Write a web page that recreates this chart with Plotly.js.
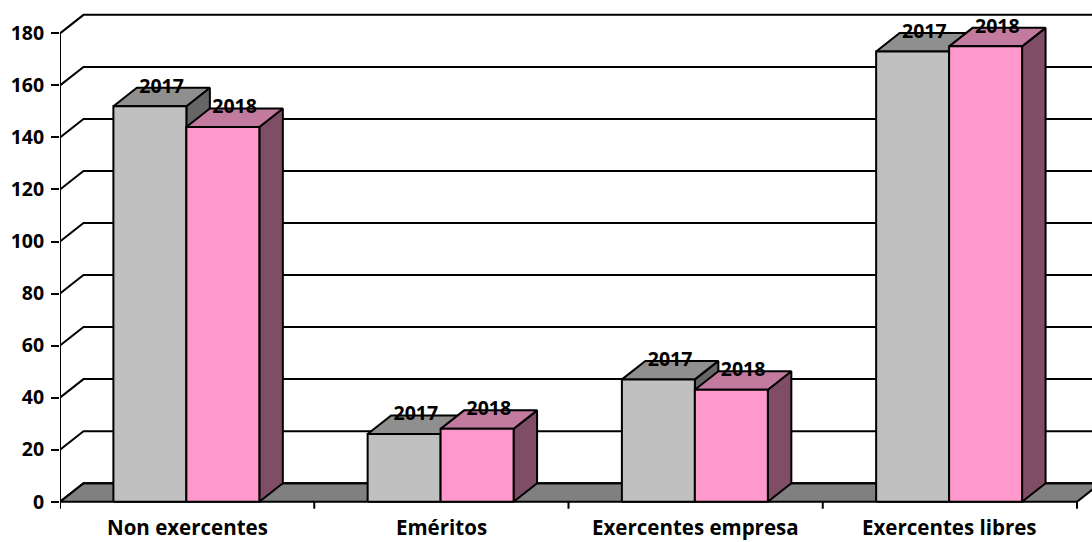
<!DOCTYPE html>
<html>
<head>
<meta charset="utf-8">
<script src="https://cdn.plot.ly/plotly-3.0.1.min.js"></script>
<style>html,body{margin:0;padding:0;background:#fff;}#chart{width:1092px;height:542px;}</style>
</head>
<body>
<div id="chart"></div>
<script>
// ---- data ----
const categories = ['Non exercentes', 'Eméritos', 'Exercentes empresa', 'Exercentes libres'];
const seriesNames = ['2017', '2018'];
const values2017 = [152, 26, 47, 173];
const values2018 = [144, 28, 43, 175];
const yTickVals = [0, 20, 40, 60, 80, 100, 120, 140, 160, 180];

// ---- styling / geometry ----
const FONT = '"Open Sans", Lato, Arial, sans-serif';
const FSIZE = 19.5;
const CAT_FSIZE = 20.5;
const pxPerX = 254.25, pxPerY = 2.602;
const DX = 23.5 / pxPerX, DY = 18.5 / pxPerY;       // 3D depth in data units
const barW = 0.287, groupLeft = 0.21;
const yMax = 180;
const nCat = categories.length;
const xEnd = nCat + DX + 0.5;
const colors = [
  {front: '#C0C0C0', top: '#8F8F8F', side: '#666666'},
  {front: '#FF99CC', top: '#C27A9E', side: '#804D66'}
];
const seriesValues = [values2017, values2018];

const traces = [];
const line = {color: '#000', width: 2};

// floor
traces.push({x: [0, nCat, nCat + DX, DX, 0], y: [0, 0, DY, DY, 0], mode: 'lines', fill: 'toself',
  fillcolor: '#808080', line: line, hoverinfo: 'skip', showlegend: false});

// wall gridlines (left side wall diagonal + back wall)
{
  const gx = [], gy = [];
  yTickVals.forEach(v => { gx.push(0, DX, xEnd, null); gy.push(v, v + DY, v + DY, null); });
  traces.push({x: gx, y: gy, mode: 'lines', line: line, hoverinfo: 'skip', showlegend: false});
}

// y axis line (front)
traces.push({x: [0, 0], y: [0, yMax], mode: 'lines', line: line, hoverinfo: 'skip', showlegend: false});

// x tick marks at category boundaries
{
  const tx = [], ty = [];
  for (let k = 0; k <= nCat; k++) { tx.push(k, k, null); ty.push(0, -2.7, null); }
  traces.push({x: tx, y: ty, mode: 'lines', line: line, hoverinfo: 'skip', showlegend: false});
}

// bars
seriesValues.forEach((vals, s) => {
  const side = {x: [], y: []}, top = {x: [], y: []}, front = {x: [], y: []};
  vals.forEach((v, i) => {
    const x0 = i + groupLeft + s * barW, x1 = x0 + barW;
    side.x.push(x1, x1 + DX, x1 + DX, x1, x1, null);
    side.y.push(0, DY, v + DY, v, 0, null);
    top.x.push(x0, x1, x1 + DX, x0 + DX, x0, null);
    top.y.push(v, v, v + DY, v + DY, v, null);
    front.x.push(x0, x1, x1, x0, x0, null);
    front.y.push(0, 0, v, v, 0, null);
  });
  [[side, colors[s].side], [top, colors[s].top], [front, colors[s].front]].forEach(([f, c]) => {
    traces.push({x: f.x, y: f.y, mode: 'lines', fill: 'toself', fillcolor: c, line: line,
      hoverinfo: 'skip', showlegend: false, name: seriesNames[s]});
  });
});

// data labels
seriesValues.forEach((vals, s) => {
  traces.push({
    x: vals.map((v, i) => i + groupLeft + s * barW + barW / 2 + DX / 2),
    y: vals.map(v => v + DY),
    text: vals.map(() => seriesNames[s]),
    mode: 'text', textposition: 'middle center', cliponaxis: false,
    textfont: {family: FONT, size: FSIZE, color: '#000', weight: 'bold'},
    hoverinfo: 'skip', showlegend: false
  });
});

const plotH = 542 - 9 - 30;
const y0 = -(512 - 501.7) / pxPerY;
const y1 = y0 + plotH / pxPerY;

const layout = {
  width: 1092, height: 542,
  margin: {l: 60, r: 0, t: 9, b: 30, pad: 0},
  paper_bgcolor: '#fff', plot_bgcolor: '#fff',
  showlegend: false,
  font: {family: FONT, color: '#000'},
  xaxis: {range: [0, 1032 / pxPerX], showgrid: false, zeroline: false, showline: false,
    showticklabels: false, ticks: '', fixedrange: true},
  yaxis: {range: [y0, y1], showgrid: false, zeroline: false, showline: false,
    tickmode: 'array', tickvals: yTickVals, ticktext: yTickVals.map(String),
    ticks: 'outside', ticklen: 8, tickwidth: 2, tickcolor: '#000', ticklabelstandoff: 3,
    tickfont: {family: FONT, size: FSIZE, color: '#000', weight: 'bold'}, fixedrange: true},
  annotations: categories.map((c, i) => ({
    x: i + 0.5, y: 0, xref: 'x', yref: 'y', text: c, showarrow: false,
    yanchor: 'bottom', xanchor: 'center', yshift: -40, borderpad: 0,
    font: {family: FONT, size: CAT_FSIZE, color: '#000', weight: 'bold'}
  }))
};

Plotly.newPlot('chart', traces, layout, {displayModeBar: false, staticPlot: true});
</script>
</body>
</html>
